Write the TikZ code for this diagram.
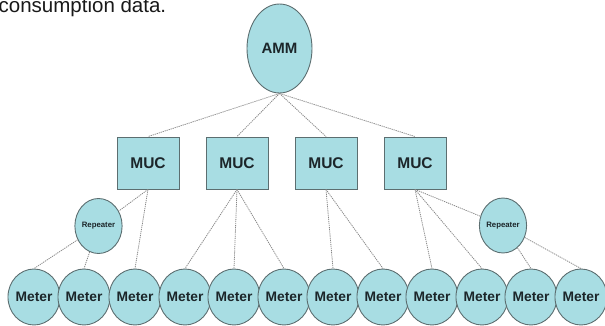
\documentclass[tikz,border=0pt]{standalone}
\usepackage{fontspec}
\setmainfont{Liberation Sans}
\usetikzlibrary{shapes.geometric}
\definecolor{nodefill}{RGB}{168,221,227}
\definecolor{nodeline}{RGB}{92,110,112}
\definecolor{nodetext}{RGB}{28,38,42}
\definecolor{linkgray}{RGB}{135,135,135}
\tikzset{
  unit/.style={fill=nodefill, draw=nodeline, line width=0.9pt, inner sep=0pt, text=nodetext},
  oval/.style={unit, ellipse},
  ammnode/.style={oval, minimum width=65pt, minimum height=89pt, font=\bfseries\fontsize{15}{15}\selectfont},
  mucnode/.style={unit, rectangle, minimum width=62pt, minimum height=52pt, font=\bfseries\fontsize{15.5}{15.5}\selectfont},
  repnode/.style={oval, minimum width=44pt, minimum height=55pt, font=\bfseries\fontsize{7.8}{7.8}\selectfont},
  meternode/.style={oval, minimum width=43pt, minimum height=56pt, font=\bfseries\fontsize{13.8}{13.8}\selectfont},
  link/.style={draw=linkgray, line width=0.8pt, dash pattern=on 1.2pt off 0.9pt}
}
\begin{document}
\begin{tikzpicture}[x=1pt, y=-1pt]
\useasboundingbox (0,0) rectangle (605,326);
\clip (0,0) rectangle (605,326);

% caption line carried over from the text above
\node[anchor=base west, inner sep=0pt, font=\fontsize{20.5}{20.5}\selectfont, text=black!90] (cap) at (-1.5,12.7) {consumption data.};

% head end
\node[ammnode] (amm) at (279.5,48.5) {AMM};

% concentrators
\foreach \i/\x in {1/148, 2/237, 3/326, 4/415}
  \node[mucnode] (muc\i) at (\x,163) {MUC};

% repeaters
\node[repnode] (repL) at (98.5,226) {Repeater};
\node[repnode] (repR) at (503,225.5) {Repeater};

% meters
\foreach \i/\x in {1/34, 2/84, 3/135, 4/185, 5/234, 6/284, 7/333, 8/383, 9/432, 10/482, 11/531, 12/581}
  \node[meternode] (met\i) at (\x,297) {Meter};

% links
\begin{scope}[on background layer/.try]
\foreach \i in {1,...,4}
  \draw[link] (amm.south) -- (muc\i.north);

\draw[link] (muc1.south) -- (repL);
\draw[link] (muc1.south) -- (met3.north);
\draw[link] (repL) -- (met1.north);
\draw[link] (repL) -- (met2.north);

\foreach \j in {4,5,6}
  \draw[link] (muc2.south) -- (met\j.north);

\foreach \j in {7,8}
  \draw[link] (muc3.south) -- (met\j.north);

\foreach \j in {9,10}
  \draw[link] (muc4.south) -- (met\j.north);
\draw[link] (muc4.south) -- (repR);
\draw[link] (repR) -- (met11.north);
\draw[link] (repR) -- (met12.north);
\end{scope}
\end{tikzpicture}
\end{document}
